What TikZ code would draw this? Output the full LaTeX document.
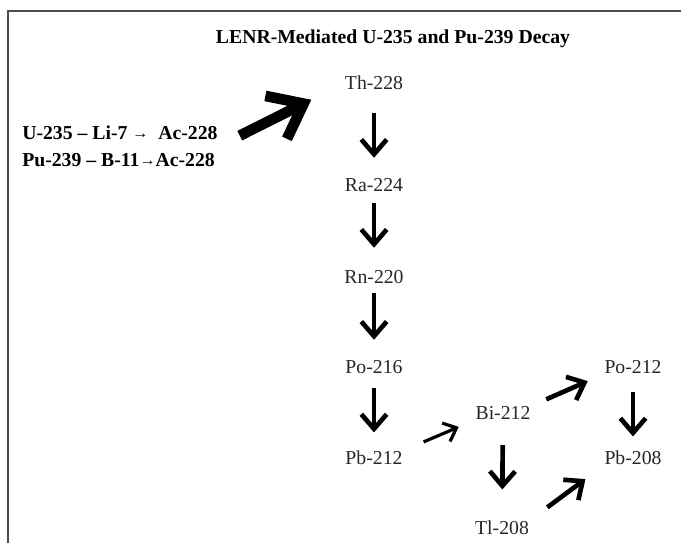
\documentclass[tikz,border=0pt]{standalone}
\usepackage{fontspec}
\setmainfont{Liberation Serif}
\usetikzlibrary{arrows.meta}
\newcommand{\smarr}{{\fontsize{12}{12}\selectfont\raisebox{1pt}{→}}}
\tikzset{
	iso/.style={font=\fontsize{14.8}{17}\selectfont,inner sep=0pt,text=black!85},
	hdr/.style={font=\fontsize{14.8}{17}\selectfont\bfseries,inner sep=0pt},
	decay/.style={line width=3.5pt,-{Straight Barb[length=11pt,width=19pt]}},
	thin decay/.style={line width=2.4pt,-{Straight Barb[length=8.5pt,width=15pt]}},
	feed/.style={line width=8pt,-{Straight Barb[length=23pt,width=36pt]}}
}

\begin{document}
\begin{tikzpicture}[x=0.75pt,y=-0.75pt]
		\useasboundingbox (0,0) rectangle (681,543);
		\draw[line width=1.5pt,black!70](8,543)--(8,11)--(681,11);
		\node[hdr](title) at (393,39){LENR-Mediated U-235 and Pu-239 Decay};
		\node[hdr,anchor=west](uli) at (22,133){U-235 -- Li-7 \smarr\ \ Ac-228};
		\node[hdr,anchor=west](pub) at (22,160){Pu-239 -- B-11\smarr Ac-228};
		\node[iso](th228) at (374,83){Th-228};
		\node[iso](ra224) at (374,185){Ra-224};
		\node[iso](rn220) at (374,277){Rn-220};
		\node[iso](po216) at (374,367){Po-216};
		\node[iso](pb212) at (374,458){Pb-212};
		\node[iso](bi212) at (503,413){Bi-212};
		\node[iso](po212) at (633,367){Po-212};
		\node[iso](pb208) at (633,458){Pb-208};
		\node[iso](tl208) at (502,528){Tl-208};
		\coordinate (tail) at ([xshift=16.5pt,yshift=-2pt]uli.east);
		\draw[feed,shorten >=28pt](tail)--(th228.west);
		\draw[decay,shorten <=16.75pt,shorten >=15.25pt](th228)--(ra224);
		\draw[decay,shorten <=8.5pt,shorten >=16.75pt](ra224)--(rn220);
		\draw[decay,shorten <=7pt,shorten >=15.25pt](rn220)--(po216);
		\draw[decay,shorten <=10.75pt,shorten >=13.75pt](po216)--(pb212);
		\draw[thin decay,shorten <=17pt,shorten >=13.5pt](pb212.north east)--(bi212.south west);
		\draw[decay,shorten <=12.75pt,shorten >=13.5pt](bi212.north east)--(po212.south west);
		\draw[decay,shorten <=19pt,shorten >=23.5pt](bi212)--(tl208);
		\draw[decay,shorten <=13.75pt,shorten >=10.75pt](po212)--(pb208);
		\draw[decay,shorten <=17pt,shorten >=17.5pt](tl208.north east)--(pb208.south west);
	\end{tikzpicture}
\end{document}
